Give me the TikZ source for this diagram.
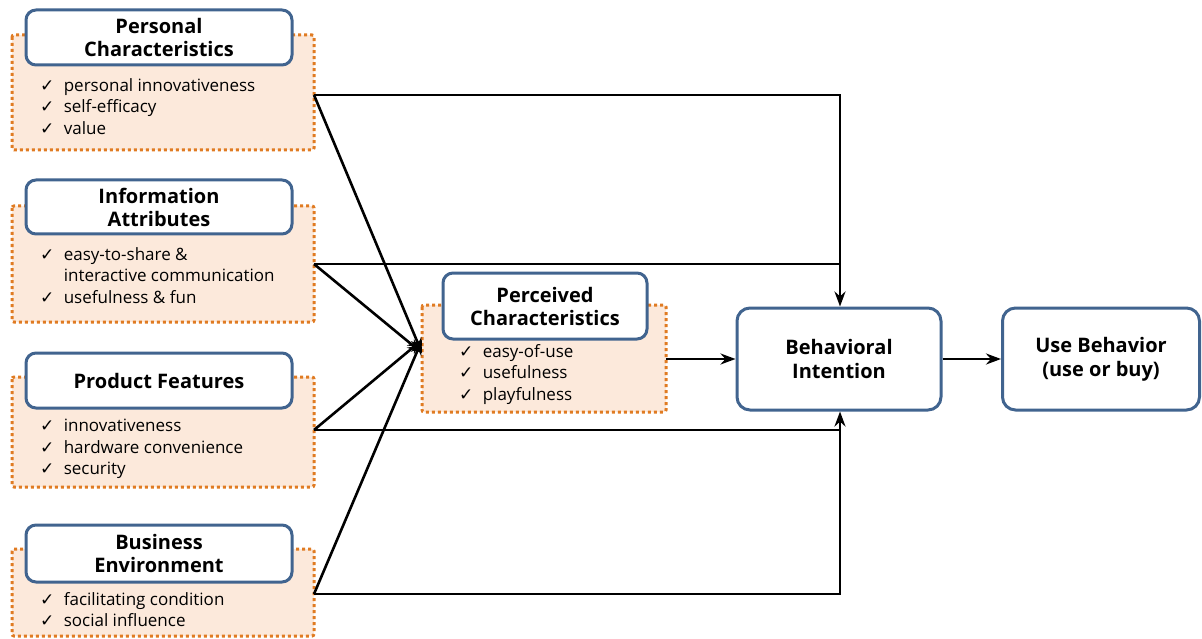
\documentclass[tikz,border=0pt]{standalone}
\usepackage{fontspec}
\setmainfont{Open Sans}
\newfontfamily\symf{DejaVu Sans}
\usetikzlibrary{arrows.meta}
\definecolor{boxblue}{HTML}{41648F}
\definecolor{peach}{HTML}{FCE9DB}
\definecolor{dotorange}{HTML}{E07B22}
\newcommand{\ck}{{\symf\char"2713}\hspace{0.55em}}
\tikzset{
  head/.style={draw=boxblue, line width=3pt, rounded corners=10pt, fill=white, align=center, font=\fontsize{20}{23}\selectfont\bfseries, inner sep=0pt},
  bigbox/.style={draw=boxblue, line width=3pt, rounded corners=13pt, fill=white, align=center, font=\fontsize{20}{24}\selectfont\bfseries, inner sep=0pt},
  panel/.style={draw=dotorange, fill=peach, line width=3pt, dash pattern=on 3pt off 3pt, rounded corners=2pt},
  items/.style={anchor=north west, align=left, font=\fontsize{17}{21.5}\selectfont, inner sep=0pt},
  conn/.style={line width=2.6pt, black},
  arr/.style={conn, -{Stealth[length=15pt,width=11pt]}},
}
\begin{document}
\begin{tikzpicture}[x=1pt,y=-1pt]
\useasboundingbox (0,0) rectangle (1202,639);
% panels
\path[panel] (12,35) rectangle (314,150);
\path[panel] (12,206) rectangle (314,322);
\path[panel] (12,377) rectangle (314,487);
\path[panel] (12,549) rectangle (314,636);
\path[panel] (422,305) rectangle (666,412);
% headers
\node[head, minimum width=266pt, minimum height=55pt] (pc) at (159,37.5) {Personal\\Characteristics};
\node[head, minimum width=266pt, minimum height=54pt] (ia) at (159,207) {Information\\Attributes};
\node[head, minimum width=266pt, minimum height=55pt] (pf) at (159,380.5) {Product Features};
\node[head, minimum width=266pt, minimum height=57pt] (be) at (159,553.5) {Business\\Environment};
\node[head, minimum width=204pt, minimum height=66pt] (pe) at (545,306) {Perceived\\Characteristics};
% items
\node[items] (pcl) at (40,78) {\ck personal innovativeness\\\ck self-efficacy\\\ck value};
\node[items] (ial) at (40,247) {\ck easy-to-share \&\\\hphantom{\ck}interactive communication\\\ck usefulness \& fun};
\node[items] (pfl) at (40,419) {\ck innovativeness\\\ck hardware convenience\\\ck security};
\node[items] (bel) at (40,592) {\ck facilitating condition\\\ck social influence};
\node[items] (pel) at (459,344) {\ck easy-of-use\\\ck usefulness\\\ck playfulness};
% big boxes
\node[bigbox, minimum width=204pt, minimum height=102pt] (bi) at (839,359) {Behavioral\\Intention};
\node[bigbox, minimum width=197pt, minimum height=102pt] (ub) at (1101,359) {Use Behavior\\(use or buy)};
% anchor coordinates
\coordinate (o1) at (314,95);
\coordinate (o2) at (314,264);
\coordinate (o3) at (314,430);
\coordinate (o4) at (314,594);
\coordinate (t1) at (422,353);
\coordinate (t2) at (422,340);
\coordinate (k1) at (840,95);
\coordinate (k2) at (840,264);
\coordinate (k3) at (840,430);
\coordinate (k4) at (840,594);
% connectors to BI
\draw[conn] (o2) -- (k2);
\draw[arr] (o1) -- (k1) -- (bi.north -| k1);
\draw[conn] (o4) -- (k4) -- (k3);
\draw[arr] (o3) -- (k3) -- (bi.south -| k3);
% to perceived
\draw[arr] (o1) -- (t1);
\draw[arr] (o2) -- (t1);
\draw[arr] (o3) -- (t2);
\draw[arr] (o4) -- (t2);
% right chain
\draw[arr] (666,359) -- (bi.west);
\draw[arr] (bi.east) -- (ub.west);
\end{tikzpicture}
\end{document}
